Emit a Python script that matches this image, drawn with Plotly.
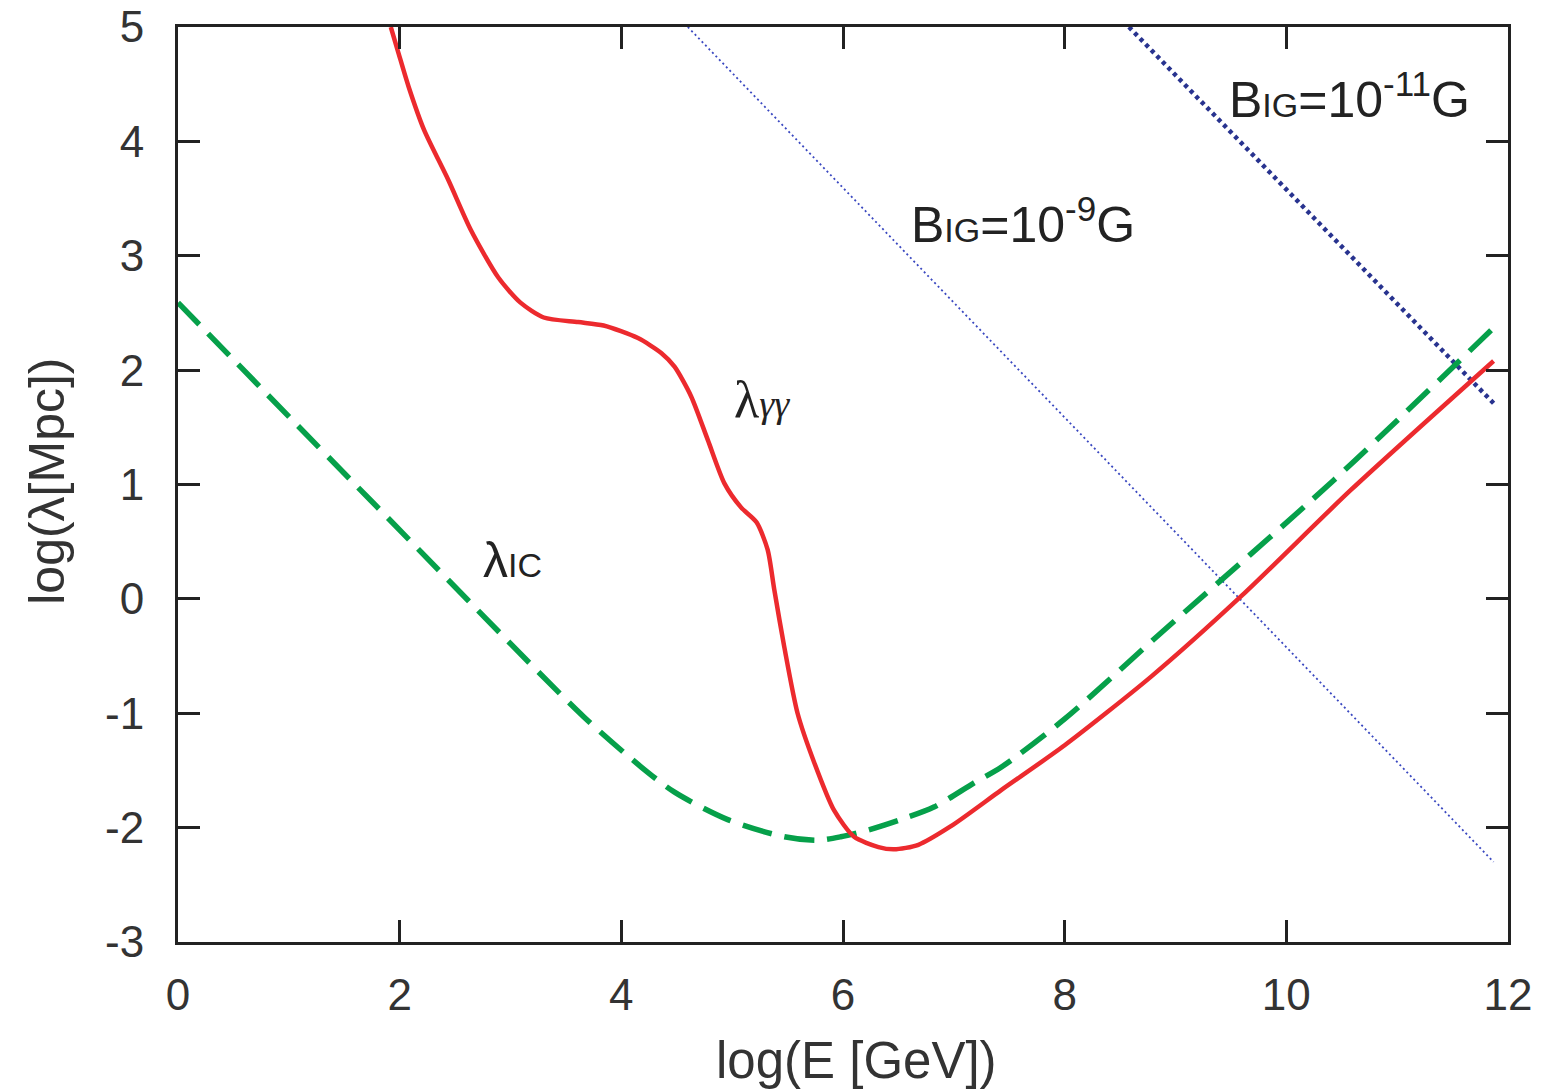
import plotly.graph_objects as go

# lambda_gamma-gamma (red solid)
red_x = [1.92, 1.99, 2.08, 2.22, 2.44, 2.64, 2.89, 3.09, 3.30, 3.61, 3.84, 4.15, 4.36, 4.48,
         4.63, 4.78, 4.93, 5.08, 5.22, 5.32, 5.38, 5.47, 5.59, 5.74, 5.92, 6.10, 6.32, 6.46,
         6.68, 6.97, 7.43, 8.0, 8.78, 9.6, 10.58, 11.87]
red_y = [5.0, 4.77, 4.48, 4.10, 3.66, 3.23, 2.81, 2.59, 2.46, 2.42, 2.39, 2.28, 2.15, 2.03,
         1.77, 1.39, 1.01, 0.80, 0.67, 0.43, 0.08, -0.42, -1.00, -1.43, -1.85, -2.08, -2.17, -2.19,
         -2.15, -1.99, -1.67, -1.28, -0.68, 0.03, 0.95, 2.08]

# lambda_IC (green dashed)
green_x = [0.0, 1.74, 3.66, 4.18, 4.48, 4.96, 5.47, 5.77, 5.98, 6.23, 6.52, 6.82, 7.18, 7.43,
           8.0, 8.82, 10.43, 11.87]
green_y = [2.59, 0.86, -1.03, -1.47, -1.69, -1.93, -2.08, -2.11, -2.08, -2.02, -1.93, -1.82,
           -1.61, -1.47, -1.05, -0.34, 1.04, 2.37]

# B_IG = 1e-9 G (thin blue dotted)
b9_x = [4.60, 11.87]
b9_y = [5.0, -2.30]

# B_IG = 1e-11 G (thick blue dotted)
b11_x = [8.58, 11.87]
b11_y = [5.0, 1.71]

x_ticks = [0, 2, 4, 6, 8, 10, 12]
y_ticks = [-3, -2, -1, 0, 1, 2, 3, 4, 5]

fig = go.Figure()
fig.add_trace(go.Scatter(x=b9_x, y=b9_y, mode="lines",
                         line=dict(color="#3a48c0", width=1.8, dash="2px,3px")))
fig.add_trace(go.Scatter(x=b11_x, y=b11_y, mode="lines",
                         line=dict(color="#28338f", width=4.5, dash="4px,4px")))
fig.add_trace(go.Scatter(x=green_x, y=green_y, mode="lines",
                         line=dict(color="#06a04a", width=5.5, dash="30px,13px", shape="spline", smoothing=0.8)))
fig.add_trace(go.Scatter(x=red_x, y=red_y, mode="lines",
                         line=dict(color="#ec2a2e", width=4.5, shape="spline", smoothing=0.7)))

sans = "Liberation Sans, Arial, Helvetica, sans-serif"
serif = "Liberation Serif, Times New Roman, serif"

annos = [
    dict(x=5.27, y=1.74, text="λ<i><span style='font-size:38px'>γγ</span></i>",
         font=dict(size=52, color="#222", family=serif)),
    dict(x=3.02, y=0.34, text="λ<span style='font-size:34px'>IC</span>",
         font=dict(size=50, color="#222", family=sans)),
    dict(x=7.62, y=3.30, text="B<span style='font-size:34px'>IG</span>=10<sup>-9</sup>G",
         font=dict(size=50, color="#222", family=sans)),
    dict(x=10.57, y=4.40, text="B<span style='font-size:34px'>IG</span>=10<sup>-11</sup>G",
         font=dict(size=50, color="#222", family=sans)),
]
for a in annos:
    fig.add_annotation(xref="x", yref="y", showarrow=False, **a)

# axis titles
fig.add_annotation(xref="paper", yref="paper", x=0.5105, y=0, yshift=-118, xanchor="center",
                   yanchor="middle", showarrow=False, text="log(E [GeV])",
                   font=dict(size=51, color="#333", family=sans))
fig.add_annotation(xref="paper", yref="paper", x=0, xshift=-131, y=0.503, xanchor="center",
                   yanchor="middle", showarrow=False, textangle=-90, text="log(λ[Mpc])",
                   font=dict(size=50, color="#333", family=sans))

axis_common = dict(showgrid=False, zeroline=False, showline=True, linecolor="#222",
                   linewidth=3, mirror="ticks", ticks="inside", ticklen=22, tickwidth=3,
                   tickcolor="#222", tickfont=dict(size=44, color="#333", family=sans),
                   automargin=False, ticklabeloverflow="allow")

fig.update_xaxes(range=[0, 12], tickvals=x_ticks, ticktext=[str(v) for v in x_ticks],
                 ticklabelstandoff=12, **axis_common)
fig.update_yaxes(range=[-3, 5], tickvals=y_ticks, ticktext=[str(v) for v in y_ticks],
                 ticklabelstandoff=22, **axis_common)

# page body adds an ~8px offset, so the figure is sized to fill the remaining window
fig.update_layout(width=1542, height=1081, showlegend=False,
                  paper_bgcolor="white", plot_bgcolor="white",
                  margin=dict(l=170, r=42, t=19, b=147, autoexpand=False))

fig.write_html("out.html")
